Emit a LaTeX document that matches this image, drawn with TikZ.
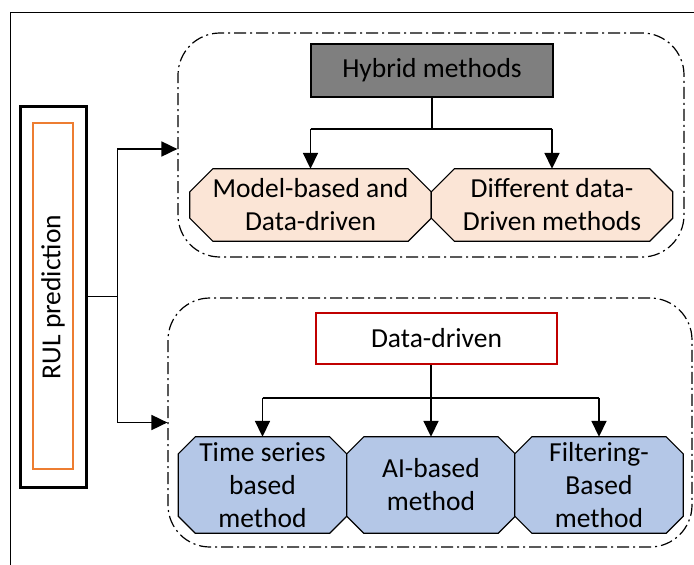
\documentclass[tikz,border=0pt]{standalone}
\usepackage{fontspec}
\setmainfont{Carlito}
\usetikzlibrary{calc,backgrounds,arrows.meta}
\definecolor{peach}{HTML}{FBE5D6}
\definecolor{paleblue}{HTML}{B4C7E7}
\definecolor{boxgray}{HTML}{7F7F7F}
\definecolor{darkred}{HTML}{C00000}
\definecolor{accentorange}{HTML}{ED7D31}
\tikzset{
  txt/.style={font=\fontsize{27.5}{33}\selectfont, align=center, inner sep=0pt, text=black},
  cellA/.style={txt, minimum width=241pt, minimum height=72pt},
  cellB/.style={txt, minimum width=168pt, minimum height=96pt},
  group/.style={draw, line width=1.2pt, dash pattern=on 12pt off 4pt on 2pt off 4pt,
    rounded corners=42pt, inner sep=0pt},
  wire/.style={line width=1.8pt},
  link/.style={line width=1.8pt, -{Triangle[length=16pt,width=15pt]}},
  chamfer/.style={draw, line width=1.2pt, fill=#1},
  frame/.style={draw, line width=1.5pt}
}
% octagon drawn around a named node: node, chamfer size, fill colour
\newcommand\octagon[3]{%
  \draw[chamfer=#3]
    ($(#1.north west)+(#2,0)$) -- ($(#1.north east)+(-#2,0)$) --
    ($(#1.north east)+(0,#2)$) -- ($(#1.south east)+(0,-#2)$) --
    ($(#1.south east)+(-#2,0)$) -- ($(#1.south west)+(#2,0)$) --
    ($(#1.south west)+(0,-#2)$) -- ($(#1.north west)+(0,#2)$) -- cycle;}
\begin{document}
\begin{tikzpicture}[x=1pt,y=-1pt]
\useasboundingbox (0,0) rectangle (694,565);
% outer frame, running off the page to the right and bottom
\begin{scope}
  \clip (0,0) rectangle (694,565);
  \draw[frame] (10.5,12.5) rectangle (720,600);
\end{scope}

% dash-dotted groups
\node[group, minimum width=506pt, minimum height=224pt] (hgrp) at (431,145) {};
\node[group, minimum width=524pt, minimum height=249pt] (dgrp) at (430,422.5) {};

% RUL prediction block
\node[draw=black, line width=3pt, minimum width=66pt, minimum height=381pt, inner sep=0pt] (rulbox) at (53,296.5) {};
\node[draw=accentorange, line width=2pt, minimum width=40pt, minimum height=346pt, inner sep=0pt] (rulinner) at (53,296) {};
\node[txt, rotate=90] (rul) at (53,297) {RUL prediction};

% headers
\node[txt, fill=boxgray, draw=black, line width=1.2pt, minimum width=242pt, minimum height=53pt] (hyb) at (432,70.5) {Hybrid methods};
\node[txt, draw=darkred, line width=1.3pt, minimum width=241pt, minimum height=51pt] (dd) at (436.5,338.5) {Data-driven};

% method cells
\node[cellA] (mb) at (310.5,205) {Model-based and\\Data-driven};
\node[cellA] (dm) at (552,205) {Different data-\\Driven methods};
\node[cellB] (ts) at (262.5,485) {Time series\\based\\method};
\node[cellB] (ai) at (431,485) {AI-based\\method};
\node[cellB] (fb) at (599,485) {Filtering-\\Based\\method};

\begin{scope}[on background layer]
  \octagon{mb}{23}{peach}
  \octagon{dm}{23}{peach}
  \octagon{ts}{17}{paleblue}
  \octagon{ai}{17}{paleblue}
  \octagon{fb}{17}{paleblue}
\end{scope}

% hybrid branch
\coordinate (hj) at ($(hyb.south)+(0,31)$);
\draw[wire] (hyb.south) -- (hj);
\draw[wire] (hj -| mb.north) -- (hj -| dm.north);
\draw[link] (hj -| mb.north) -- (mb.north);
\draw[link] (hj -| dm.north) -- (dm.north);

% data-driven branch
\coordinate (dj) at ($(dd.south -| ai.north)+(0,33)$);
\draw[wire] (dd.south -| ai.north) -- (dj);
\draw[wire] (dj -| ts.north) -- (dj -| fb.north);
\draw[link] (dj -| ts.north) -- (ts.north);
\draw[link] (dj) -- (ai.north);
\draw[link] (dj -| fb.north) -- (fb.north);

% RUL prediction feeding both groups
\coordinate (split) at ($(rulbox.east)+(30,0)$);
\draw[wire] (rulbox.east) -- (split);
\draw[link] (split) |- ([yshift=-4pt]hgrp.west);
\draw[link] (split) |- (dgrp.west);
\end{tikzpicture}
\end{document}
